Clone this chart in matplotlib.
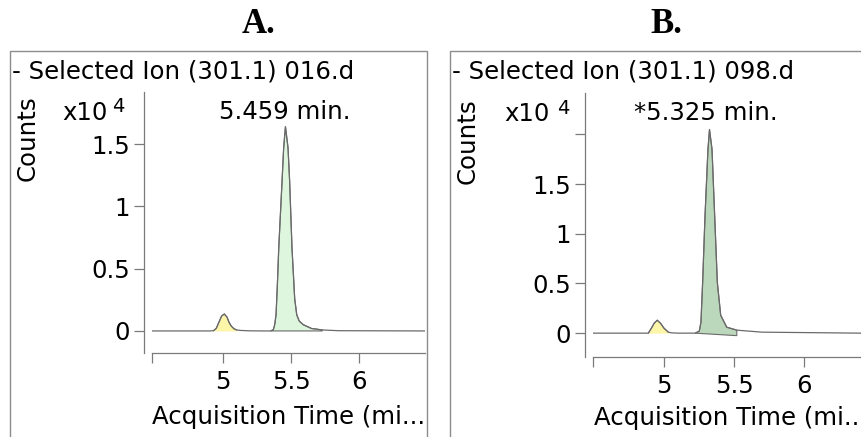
import matplotlib
matplotlib.use("Agg")
import matplotlib.pyplot as plt
import numpy as np
from matplotlib.patches import Rectangle, Polygon

# ---------------- data ----------------
panel_titles = ["A.", "B."]
trace_names = ["- Selected Ion (301.1) 016.d", "- Selected Ion (301.1) 098.d"]
peak_labels = ["5.459 min.", "*5.325 min."]

times_A = [4.478, 4.90, 4.93, 4.95, 4.97, 4.99, 5.01, 5.03, 5.044, 5.06, 5.08, 5.10,
           5.13, 5.20, 5.30, 5.35, 5.37, 5.38, 5.39, 5.40, 5.41, 5.434, 5.446, 5.459,
           5.478, 5.49, 5.507, 5.527, 5.542, 5.56, 5.59, 5.65, 5.73, 5.85, 6.485]
counts_A = [0, 0, 0.002, 0.02, 0.07, 0.12, 0.136, 0.11, 0.07, 0.04, 0.018, 0.008,
            0.004, 0.001, 0, 0, 0.01, 0.05, 0.13, 0.38, 0.67, 1.20, 1.47, 1.64,
            1.47, 1.20, 0.67, 0.26, 0.13, 0.08, 0.05, 0.02, 0.008, 0.002, 0]

times_B = [4.493, 4.85, 4.888, 4.91, 4.93, 4.952, 4.975, 5.00, 5.031, 5.055, 5.10,
           5.20, 5.222, 5.252, 5.264, 5.276, 5.293, 5.314, 5.325, 5.343, 5.362,
           5.381, 5.405, 5.448, 5.52, 5.70, 6.407]
counts_B = [0, 0, 0.0, 0.05, 0.10, 0.13, 0.10, 0.05, 0.01, 0.003, 0.0,
            0.0, 0.0, 0.02, 0.11, 0.51, 1.18, 1.85, 2.05, 1.85, 1.18,
            0.51, 0.18, 0.06, 0.03, 0.01, 0.0]

minor_window_A = [4.93, 5.10]
main_window_A = [5.35, 5.73]
minor_window_B = [4.888, 5.031]
main_window_B = [5.222, 5.52]
main_base_B = [0.0, -0.025]

xlim_A = [4.478, 6.485]
ylim_A = [-0.177, 1.918]
xlim_B = [4.493, 6.407]
ylim_B = [-0.24, 2.417]

xticks = [5, 5.5, 6]
xtick_labels = ["5", "5.5", "6"]
yticks_A = [0, 0.5, 1, 1.5]
ytick_labels_A = ["0", "0.5", "1", "1.5"]
yticks_B = [0, 0.5, 1, 1.5, 2]
ytick_labels_B = ["0", "0.5", "1", "1.5", ""]

# ---------------- figure ----------------
W, H = 861, 437
plt.rcParams["font.family"] = ["DejaVu Sans"]
fig = plt.figure(figsize=(W / 100, H / 100), dpi=100)
fig.patch.set_facecolor("white")

def fx(px):
    return px / W

def fy(py):
    return 1 - py / H

def rect(l, r, top, bottom):
    return [fx(l), fy(bottom), (r - l) / W, (bottom - top) / H]

LINE = "#6a6a6a"
SPINE = "#7a7a7a"
YELLOW = "#fdf5a8"
GREEN_A = "#ddf6dd"
GREEN_B = "#bcd8bc"
FS = 17.6

# panel frames
for (l, r) in [(10, 427), (450, 875)]:
    fig.patches.append(Rectangle((fx(l), fy(445)), (r - l) / W, (445 - 51) / H,
                                 transform=fig.transFigure, fill=False,
                                 edgecolor="#8c8c8c", lw=1.0, clip_on=False))


def setup(ax, xlim, ylim, yticks, ylabels):
    ax.set_xlim(xlim)
    ax.set_ylim(ylim)
    for s in ["top", "right"]:
        ax.spines[s].set_visible(False)
    ax.spines["left"].set_position(("outward", 6))
    ax.spines["left"].set_color(SPINE)
    ax.spines["bottom"].set_color(SPINE)
    ax.spines["left"].set_linewidth(0.9)
    ax.spines["bottom"].set_linewidth(0.9)
    ax.set_xticks(xticks + [xlim[0]])
    ax.set_xticklabels(xtick_labels + [""])
    ax.set_yticks(yticks)
    ax.set_yticklabels(ylabels)
    ax.tick_params(axis="x", length=7, width=0.9, color=SPINE, labelsize=FS, pad=5)
    ax.tick_params(axis="y", length=7, width=0.9, color=SPINE, labelsize=FS, pad=3)
    ax.patch.set_alpha(0)


def draw_trace(ax, t, c, mwin, mcolor, pwin, pcolor, pbase=None):
    t = np.asarray(t, float)
    c = np.asarray(c, float)
    m = (t >= mwin[0]) & (t <= mwin[1])
    ax.fill_between(t[m], 0, c[m], color=mcolor, lw=0, zorder=1)
    ax.plot(t[m], c[m], color=LINE, lw=0.8, zorder=2)
    p = (t >= pwin[0]) & (t <= pwin[1])
    tp, cp = t[p], c[p]
    if pbase is None:
        base = np.zeros_like(tp)
    else:
        base = np.interp(tp, pwin, pbase)
    verts = list(zip(tp, cp)) + list(zip(tp[::-1], base[::-1]))
    ax.add_patch(Polygon(verts, closed=True, facecolor=pcolor, edgecolor=LINE,
                         lw=0.8, zorder=1))
    ax.plot(t, c, color=LINE, lw=0.9, zorder=3)


# Panel A
axA = fig.add_axes(rect(152, 425, 92, 353))
setup(axA, xlim_A, ylim_A, yticks_A, ytick_labels_A)
draw_trace(axA, times_A, counts_A, minor_window_A, YELLOW, main_window_A, GREEN_A)

# Panel B
axB = fig.add_axes(rect(593, 861, 93, 357))
setup(axB, xlim_B, ylim_B, yticks_B, ytick_labels_B)
draw_trace(axB, times_B, counts_B, minor_window_B, YELLOW, main_window_B, GREEN_B,
           pbase=main_base_B)

# texts
serif = ["Liberation Serif", "DejaVu Serif"]
fig.text(fx(259), fy(24.5), panel_titles[0], ha="center", va="center",
         fontsize=25, fontweight="bold", family=serif)
fig.text(fx(666), fy(24.5), panel_titles[1], ha="center", va="center",
         fontsize=25, fontweight="bold", family=serif)

fig.text(fx(12), fy(71), trace_names[0], ha="left", va="center", fontsize=FS)
fig.text(fx(452), fy(72), trace_names[1], ha="left", va="center", fontsize=FS)

fig.text(fx(28), fy(138), "Counts", rotation=90, ha="center", va="center", fontsize=FS)
fig.text(fx(468), fy(141), "Counts", rotation=90, ha="center", va="center", fontsize=FS)

fig.text(fx(62), fy(113), "x10", ha="left", va="center", fontsize=FS)
fig.text(fx(112), fy(107), "4", ha="left", va="center", fontsize=14)
fig.text(fx(504), fy(114), "x10", ha="left", va="center", fontsize=FS)
fig.text(fx(557), fy(108), "4", ha="left", va="center", fontsize=14)

fig.text(fx(285), fy(112), peak_labels[0], ha="center", va="center", fontsize=FS)
fig.text(fx(706), fy(113), peak_labels[1], ha="center", va="center", fontsize=FS)

fig.text(fx(152), fy(417), "Acquisition Time (mi...", ha="left", va="center", fontsize=FS)
fig.text(fx(594), fy(418), "Acquisition Time (mi..", ha="left", va="center", fontsize=FS)

fig.savefig("out.png", dpi=100)
